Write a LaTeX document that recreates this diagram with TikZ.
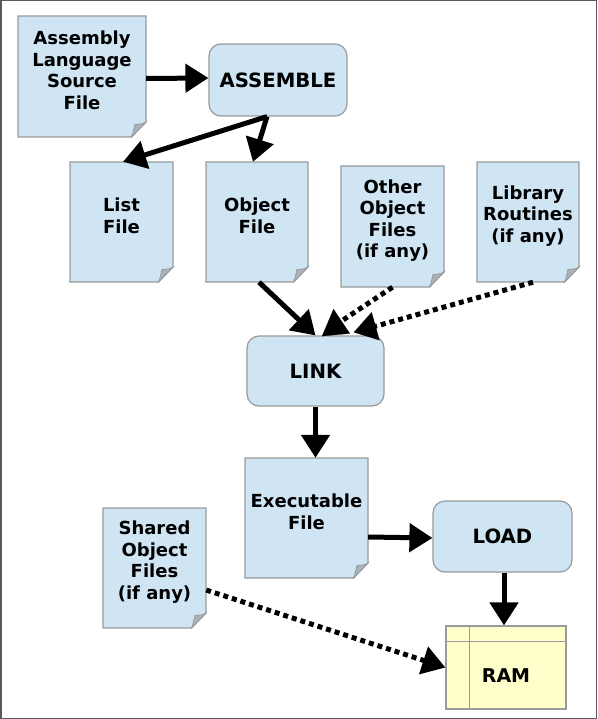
\documentclass[tikz,border=0pt]{standalone}
\usepackage{fontspec}
\setmainfont{DejaVu Sans}
\usetikzlibrary{arrows.meta}
\definecolor{boxblue}{HTML}{CFE5F3}
\definecolor{boxline}{HTML}{9A9A9A}
\definecolor{foldgray}{HTML}{A8B2BC}
\definecolor{ramyellow}{HTML}{FFFFCC}
\definecolor{frameclr}{HTML}{5A5A5A}
\tikzset{
  docbase/.style={draw=none, inner sep=0pt, rectangle},
  doctext/.style={align=center, font=\fontsize{18}{21.5}\selectfont\bfseries, inner sep=0pt},
  pageline/.style={draw=boxline, line width=1.2pt, fill=boxblue},
  foldline/.style={draw=boxline, line width=0.8pt, fill=foldgray},
  procbox/.style={draw=boxline, line width=1.2pt, fill=boxblue, rounded corners=12pt, inner sep=0pt, font=\fontsize{19.7}{22}\selectfont\bfseries},
  arr/.style={line width=5pt, -{Triangle[length=23pt,width=28pt]}},
  dotarr/.style={arr, dash pattern=on 5pt off 4pt},
  dotline/.style={line width=5pt, dash pattern=on 5pt off 4pt},
}
% #1 name, #2 x0, #3 y0, #4 x1, #5 y1, #6 text
\newcommand\docnode[6]{%
  \path[pageline] (#2,#3) -- (#4,#3) -- (#4,#5-15) -- (#4-15,#5) -- (#2,#5) -- cycle;
  \path[foldline] (#4,#5-15) .. controls (#4-4,#5-13) .. (#4-11,#5-12.5) -- (#4-14,#5) -- cycle;
  \node[docbase, minimum width={(#4-#2)*1pt}, minimum height={(#5-#3)*1pt}] (#1) at ({(#2+#4)/2},{(#3+#5)/2}) {};
  \node[doctext] (#1-t) at ([yshift=6pt]#1.center) {#6};
}
\begin{document}
\begin{tikzpicture}[x=1pt,y=-1pt]
\useasboundingbox (0,0) rectangle (597,719);
\draw[frameclr, line width=1.5pt] (0.75,0.75) rectangle (596.25,718.25);

% documents
\docnode{src}{18}{16}{146}{137}{Assembly\\Language\\Source\\File}
\docnode{lst}{70}{162}{173}{282}{List\\File}
\docnode{obj}{206}{162}{308}{282}{Object\\File}
\docnode{oth}{341}{166}{444}{287}{Other\\Object\\Files\\(if any)}
\docnode{lib}{477}{162}{579}{282}{Library\\Routines\\(if any)}
\docnode{exe}{245}{458}{368}{578}{Executable\\File}
\docnode{shr}{103}{508}{206}{628}{Shared\\Object\\Files\\(if any)}

% processes
\node[procbox, minimum width=138pt, minimum height=72pt] (asm) at (278,80) {ASSEMBLE};
\node[procbox, minimum width=137pt, minimum height=70pt] (link) at (315.5,371) {LINK};
\node[procbox, minimum width=139pt, minimum height=71pt] (load) at (502.5,536.5) {LOAD};

% RAM
\node[draw=boxline, line width=1.2pt, fill=ramyellow, minimum width=120pt, minimum height=83pt, inner sep=0pt] (ram) at (506,667.5) {};
\draw[boxline, line width=1.2pt] ([xshift=24pt]ram.north west) -- ([xshift=24pt]ram.south west);
\draw[boxline, line width=1.2pt] ([yshift=-16pt]ram.north west) -- ([yshift=-16pt]ram.north east);
\node[font=\fontsize{19}{22}\selectfont\bfseries, inner sep=0pt] (ram-t) at (506,676) {RAM};

% connectors
\draw[arr] ([yshift=-2pt]src.east) -- ([yshift=2pt]asm.west);
\draw[arr] ([xshift=-11pt]asm.south) -- ([xshift=1.5pt]lst.north);
\draw[arr] ([xshift=-11pt]asm.south) -- ([xshift=-4pt]obj.north);
\draw[arr] ([xshift=2pt]obj.south) -- (link.north);
\coordinate (othend) at (343,320);
\draw[dotline] (oth.south) -- (othend);
\draw[-{Triangle[length=26pt,width=28pt]}, line width=0.2pt] ([xshift=20.5pt]link.north) -- (333.5,309);
\draw[dotarr] ([xshift=5pt]lib.south) -- ([xshift=38pt,yshift=3pt]link.north);
\draw[arr] (link.south) -- (link.south |- exe.north);
\draw[arr] ([yshift=-19pt]exe.east) -- ([yshift=-1.5pt]load.west);
\draw[arr] ([xshift=1.5pt]load.south) -- ([xshift=-2pt]ram.north);
\draw[dotarr] ([yshift=-22pt]shr.east) -- (ram.west);
\end{tikzpicture}
\end{document}
